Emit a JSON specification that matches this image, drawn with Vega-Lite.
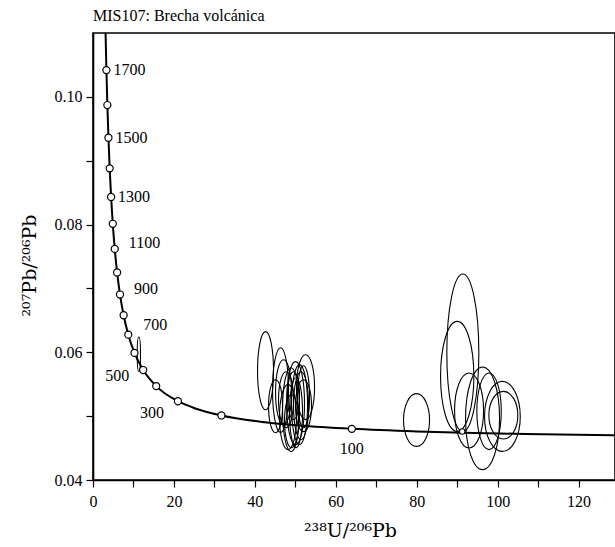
{
  "$schema": "https://vega.github.io/schema/vega-lite/v6.json",
  "width": 522,
  "height": 447,
  "autosize": "none",
  "padding": {"left": 93, "top": 33, "right": 0, "bottom": 67},
  "background": "white",
  "title": {"text": "MIS107: Brecha volcánica", "anchor": "start", "frame": "group", "font": "Liberation Serif", "fontSize": 16, "fontWeight": "normal", "color": "black", "offset": 9},
  "config": {"view": {"stroke": "black", "strokeWidth": 1.6}, "font": "Liberation Serif"},
  "datasets": {
    "curve": [
      {"age": 40, "x": 160.66, "y": 0.046819},
      {"age": 50, "x": 128.43, "y": 0.047015},
      {"age": 60, "x": 106.94, "y": 0.047213},
      {"age": 70, "x": 91.59, "y": 0.047411},
      {"age": 80, "x": 80.08, "y": 0.047611},
      {"age": 100, "x": 63.966, "y": 0.048015},
      {"age": 125, "x": 51.073, "y": 0.048527},
      {"age": 150, "x": 42.478, "y": 0.049045},
      {"age": 200, "x": 31.735, "y": 0.050108},
      {"age": 250, "x": 25.289, "y": 0.051203},
      {"age": 300, "x": 20.992, "y": 0.052333},
      {"age": 400, "x": 15.621, "y": 0.054701},
      {"age": 500, "x": 12.399, "y": 0.057219},
      {"age": 600, "x": 10.252, "y": 0.059901},
      {"age": 700, "x": 8.718, "y": 0.062757},
      {"age": 800, "x": 7.568, "y": 0.065799},
      {"age": 900, "x": 6.674, "y": 0.069042},
      {"age": 1000, "x": 5.959, "y": 0.0725},
      {"age": 1100, "x": 5.375, "y": 0.076186},
      {"age": 1200, "x": 4.888, "y": 0.080121},
      {"age": 1300, "x": 4.476, "y": 0.084322},
      {"age": 1400, "x": 4.123, "y": 0.088806},
      {"age": 1500, "x": 3.817, "y": 0.093597},
      {"age": 1600, "x": 3.55, "y": 0.098716},
      {"age": 1700, "x": 3.314, "y": 0.104187},
      {"age": 1800, "x": 3.105, "y": 0.110034}
    ],
    "ellipses": [
      {"id": "E1", "k": 0, "x": 40.66, "y": 0.05712}, {"id": "E1", "k": 1, "x": 42.64, "y": 0.06323}, {"id": "E1", "k": 2, "x": 44.61, "y": 0.05712}, {"id": "E1", "k": 3, "x": 42.64, "y": 0.05101},
      {"id": "E2", "k": 0, "x": 44.37, "y": 0.05407}, {"id": "E2", "k": 1, "x": 46.35, "y": 0.06072}, {"id": "E2", "k": 2, "x": 48.32, "y": 0.05407}, {"id": "E2", "k": 3, "x": 46.35, "y": 0.04741},
      {"id": "E3", "k": 0, "x": 43.38, "y": 0.05156}, {"id": "E3", "k": 1, "x": 45.11, "y": 0.05571}, {"id": "E3", "k": 2, "x": 46.84, "y": 0.05156}, {"id": "E3", "k": 3, "x": 45.11, "y": 0.04741},
      {"id": "E4", "k": 0, "x": 50.3, "y": 0.05454}, {"id": "E4", "k": 1, "x": 52.53, "y": 0.05962}, {"id": "E4", "k": 2, "x": 54.75, "y": 0.05454}, {"id": "E4", "k": 3, "x": 52.53, "y": 0.04945},
      {"id": "E5", "k": 0, "x": 45.11, "y": 0.05375}, {"id": "E5", "k": 1, "x": 47.09, "y": 0.05884}, {"id": "E5", "k": 2, "x": 49.06, "y": 0.05375}, {"id": "E5", "k": 3, "x": 47.09, "y": 0.04866},
      {"id": "E6", "k": 0, "x": 46.84, "y": 0.05101}, {"id": "E6", "k": 1, "x": 48.94, "y": 0.05759}, {"id": "E6", "k": 2, "x": 51.04, "y": 0.05101}, {"id": "E6", "k": 3, "x": 48.94, "y": 0.04443},
      {"id": "E7", "k": 0, "x": 47.83, "y": 0.05203}, {"id": "E7", "k": 1, "x": 50.05, "y": 0.05853}, {"id": "E7", "k": 2, "x": 52.27, "y": 0.05203}, {"id": "E7", "k": 3, "x": 50.05, "y": 0.04553},
      {"id": "E8", "k": 0, "x": 49.06, "y": 0.0518}, {"id": "E8", "k": 1, "x": 51.04, "y": 0.05806}, {"id": "E8", "k": 2, "x": 53.02, "y": 0.0518}, {"id": "E8", "k": 3, "x": 51.04, "y": 0.04553},
      {"id": "E9", "k": 0, "x": 46.09, "y": 0.04984}, {"id": "E9", "k": 1, "x": 48.2, "y": 0.05493}, {"id": "E9", "k": 2, "x": 50.3, "y": 0.04984}, {"id": "E9", "k": 3, "x": 48.2, "y": 0.04475},
      {"id": "E10", "k": 0, "x": 48.57, "y": 0.05054}, {"id": "E10", "k": 1, "x": 50.18, "y": 0.05602}, {"id": "E10", "k": 2, "x": 51.78, "y": 0.05054}, {"id": "E10", "k": 3, "x": 50.18, "y": 0.04506},
      {"id": "E11", "k": 0, "x": 49.56, "y": 0.05164}, {"id": "E11", "k": 1, "x": 51.41, "y": 0.05696}, {"id": "E11", "k": 2, "x": 53.26, "y": 0.05164}, {"id": "E11", "k": 3, "x": 51.41, "y": 0.04631},
      {"id": "E12", "k": 0, "x": 47.33, "y": 0.04921}, {"id": "E12", "k": 1, "x": 49.06, "y": 0.05336}, {"id": "E12", "k": 2, "x": 50.79, "y": 0.04921}, {"id": "E12", "k": 3, "x": 49.06, "y": 0.04506},
      {"id": "E13", "k": 0, "x": 50.05, "y": 0.05164}, {"id": "E13", "k": 1, "x": 52.03, "y": 0.05571}, {"id": "E13", "k": 2, "x": 54.0, "y": 0.05164}, {"id": "E13", "k": 3, "x": 52.03, "y": 0.04757},
      {"id": "E14", "k": 0, "x": 45.85, "y": 0.05258}, {"id": "E14", "k": 1, "x": 47.71, "y": 0.05696}, {"id": "E14", "k": 2, "x": 49.56, "y": 0.05258}, {"id": "E14", "k": 3, "x": 47.71, "y": 0.04819},
      {"id": "E15", "k": 0, "x": 48.07, "y": 0.05321}, {"id": "E15", "k": 1, "x": 49.56, "y": 0.05696}, {"id": "E15", "k": 2, "x": 51.04, "y": 0.05321}, {"id": "E15", "k": 3, "x": 49.56, "y": 0.04945},
      {"id": "E16", "k": 0, "x": 50.54, "y": 0.05305}, {"id": "E16", "k": 1, "x": 52.03, "y": 0.0579}, {"id": "E16", "k": 2, "x": 53.51, "y": 0.05305}, {"id": "E16", "k": 3, "x": 52.03, "y": 0.04819},
      {"id": "F1", "k": 0, "x": 76.74, "y": 0.04939}, {"id": "F1", "k": 1, "x": 79.96, "y": 0.05352}, {"id": "F1", "k": 2, "x": 83.17, "y": 0.04939}, {"id": "F1", "k": 3, "x": 79.96, "y": 0.04526},
      {"id": "F2", "k": 0, "x": 87.44, "y": 0.05994}, {"id": "F2", "k": 1, "x": 91.4, "y": 0.07226}, {"id": "F2", "k": 2, "x": 95.35, "y": 0.05994}, {"id": "F2", "k": 3, "x": 91.4, "y": 0.04761},
      {"id": "F3", "k": 0, "x": 85.89, "y": 0.05623}, {"id": "F3", "k": 1, "x": 90.0, "y": 0.06484}, {"id": "F3", "k": 2, "x": 94.12, "y": 0.05623}, {"id": "F3", "k": 3, "x": 90.0, "y": 0.04761},
      {"id": "F4", "k": 0, "x": 89.35, "y": 0.05089}, {"id": "F4", "k": 1, "x": 92.93, "y": 0.05676}, {"id": "F4", "k": 2, "x": 96.52, "y": 0.05089}, {"id": "F4", "k": 3, "x": 92.93, "y": 0.04501},
      {"id": "F5", "k": 0, "x": 92.07, "y": 0.04966}, {"id": "F5", "k": 1, "x": 96.27, "y": 0.0577}, {"id": "F5", "k": 2, "x": 100.47, "y": 0.04966}, {"id": "F5", "k": 3, "x": 96.27, "y": 0.04161},
      {"id": "F6", "k": 0, "x": 94.86, "y": 0.05076}, {"id": "F6", "k": 1, "x": 97.87, "y": 0.05676}, {"id": "F6", "k": 2, "x": 100.89, "y": 0.05076}, {"id": "F6", "k": 3, "x": 97.87, "y": 0.04475},
      {"id": "F7", "k": 0, "x": 96.76, "y": 0.04996}, {"id": "F7", "k": 1, "x": 101.17, "y": 0.05544}, {"id": "F7", "k": 2, "x": 105.59, "y": 0.04996}, {"id": "F7", "k": 3, "x": 101.17, "y": 0.04448},
      {"id": "F8", "k": 0, "x": 97.83, "y": 0.05015}, {"id": "F8", "k": 1, "x": 101.41, "y": 0.05388}, {"id": "F8", "k": 2, "x": 104.99, "y": 0.05015}, {"id": "F8", "k": 3, "x": 101.41, "y": 0.04642},
      {"id": "G1", "k": 0, "x": 10.92, "y": 0.05971}, {"id": "G1", "k": 1, "x": 11.33, "y": 0.0624}, {"id": "G1", "k": 2, "x": 11.74, "y": 0.05971}, {"id": "G1", "k": 3, "x": 11.33, "y": 0.05701}
    ],
    "spots": [{"x": 91.25, "y": 0.0476}]
  },
  "encoding": {
    "x": {"field": "x", "type": "quantitative", "scale": {"domain": [0, 129], "nice": false, "zero": false},
      "axis": {"values": [0, 10, 20, 30, 40, 50, 60, 70, 80, 90, 100, 110, 120], "labelExpr": "datum.value % 20 === 0 ? datum.label : ''", "format": "d", "grid": false, "tickSize": 7, "tickWidth": 1.2, "tickColor": "black", "domainColor": "black", "domainWidth": 1.6, "labelFont": "Liberation Serif", "labelFontSize": 16, "labelColor": "black", "labelPadding": 6, "labelFlush": false, "labelOverlap": false, "title": "²³⁸U/²⁰⁶Pb", "titleFont": "DejaVu Serif", "titleFontSize": 19, "titleFontWeight": "normal", "titleColor": "black", "titlePadding": 12, "titleX": 257}},
    "y": {"field": "y", "type": "quantitative", "scale": {"domain": [0.04, 0.11], "nice": false, "zero": false},
      "axis": {"values": [0.04, 0.05, 0.06, 0.07, 0.08, 0.09, 0.1], "labelExpr": "round(datum.value * 100) % 2 === 0 ? format(datum.value, '.2f') : ''", "grid": false, "tickSize": 7, "tickWidth": 1.2, "tickColor": "black", "domainColor": "black", "domainWidth": 1.6, "labelFont": "Liberation Serif", "labelFontSize": 16, "labelColor": "black", "labelPadding": 4, "labelFlush": false, "labelOverlap": false, "title": "²⁰⁷Pb/²⁰⁶Pb", "titleFont": "DejaVu Serif", "titleFontSize": 19, "titleFontWeight": "normal", "titleColor": "black", "titlePadding": 15, "titleY": 232}}
  },
  "layer": [
    {"data": {"name": "curve"}, "mark": {"type": "line", "interpolate": "monotone", "color": "black", "strokeWidth": 2, "clip": true}},
    {"data": {"name": "ellipses"}, "mark": {"type": "line", "interpolate": "cardinal-closed", "tension": -0.657, "color": "black", "strokeWidth": 1.1, "clip": true},
      "encoding": {"detail": {"field": "id"}, "order": {"field": "k", "type": "quantitative"}}},
    {"data": {"name": "spots"}, "mark": {"type": "point", "shape": "circle", "filled": true, "fill": "white", "stroke": "black", "strokeWidth": 1.1, "size": 30, "opacity": 1}},
    {"data": {"name": "curve"}, "transform": [{"filter": "datum.age >= 100 && datum.age <= 1700 && datum.age % 100 === 0"}],
      "mark": {"type": "point", "shape": "circle", "filled": true, "fill": "white", "stroke": "black", "strokeWidth": 1.2, "size": 50, "opacity": 1}},
    {"data": {"name": "curve"}, "transform": [{"filter": {"field": "age", "oneOf": [1700, 1500, 1300]}}],
      "mark": {"type": "text", "align": "left", "baseline": "middle", "dx": 7, "font": "Liberation Serif", "fontSize": 16, "color": "black"},
      "encoding": {"text": {"field": "age", "type": "quantitative", "format": "d"}}},
    {"data": {"name": "curve"}, "transform": [{"filter": {"field": "age", "oneOf": [1100, 900]}}],
      "mark": {"type": "text", "align": "left", "baseline": "middle", "dx": 14, "dy": -6, "font": "Liberation Serif", "fontSize": 16, "color": "black"},
      "encoding": {"text": {"field": "age", "type": "quantitative", "format": "d"}}},
    {"data": {"name": "curve"}, "transform": [{"filter": {"field": "age", "oneOf": [700]}}],
      "mark": {"type": "text", "align": "left", "baseline": "middle", "dx": 15, "dy": -10, "font": "Liberation Serif", "fontSize": 16, "color": "black"},
      "encoding": {"text": {"field": "age", "type": "quantitative", "format": "d"}}},
    {"data": {"name": "curve"}, "transform": [{"filter": {"field": "age", "oneOf": [500]}}],
      "mark": {"type": "text", "align": "right", "baseline": "middle", "dx": -14, "dy": 6, "font": "Liberation Serif", "fontSize": 16, "color": "black"},
      "encoding": {"text": {"field": "age", "type": "quantitative", "format": "d"}}},
    {"data": {"name": "curve"}, "transform": [{"filter": {"field": "age", "oneOf": [300]}}],
      "mark": {"type": "text", "align": "right", "baseline": "middle", "dx": -14, "dy": 12, "font": "Liberation Serif", "fontSize": 16, "color": "black"},
      "encoding": {"text": {"field": "age", "type": "quantitative", "format": "d"}}},
    {"data": {"name": "curve"}, "transform": [{"filter": {"field": "age", "oneOf": [100]}}],
      "mark": {"type": "text", "align": "center", "baseline": "middle", "dy": 20, "font": "Liberation Serif", "fontSize": 16, "color": "black"},
      "encoding": {"text": {"field": "age", "type": "quantitative", "format": "d"}}}
  ]
}
